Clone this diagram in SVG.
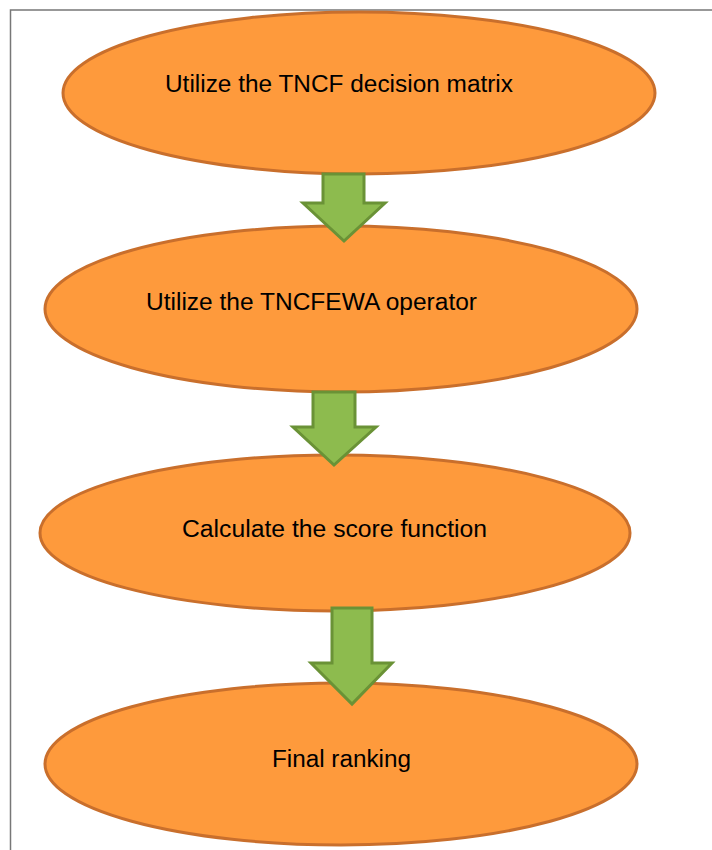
<svg xmlns="http://www.w3.org/2000/svg" width="712" height="850" viewBox="0 0 712 850">
<style>
.node ellipse{fill:#FE9A3C;stroke:#C96F2C;stroke-width:3}
.node text{font-family:"Liberation Sans",Arial,sans-serif;font-size:23px;fill:#000}
.conn path{fill:#8DBB4E;stroke:#6A9236;stroke-width:3;stroke-linejoin:miter}
</style>
<rect width="712" height="850" fill="#fff"/>
<path d="M10.5 850 V10 H712" fill="none" stroke="#777" stroke-width="1.5"/>
<g id="n1" class="node">
<ellipse cx="359" cy="93" rx="296" ry="81"/>
<text x="165" y="92" textLength="348" lengthAdjust="spacingAndGlyphs">Utilize the TNCF decision matrix</text>
</g>
<g id="n2" class="node">
<ellipse cx="341" cy="309" rx="296" ry="83"/>
<text x="146" y="310" textLength="331" lengthAdjust="spacingAndGlyphs">Utilize the TNCFEWA operator</text>
</g>
<g id="n3" class="node">
<ellipse cx="335" cy="533" rx="295" ry="78"/>
<text x="182" y="537" textLength="305" lengthAdjust="spacingAndGlyphs">Calculate the score function</text>
</g>
<g id="n4" class="node">
<ellipse cx="341" cy="764" rx="296" ry="81"/>
<text x="272" y="767" textLength="139" lengthAdjust="spacingAndGlyphs">Final ranking</text>
</g>
<g id="connectors" class="conn">
<path d="M323 174 H364 V203 H385 L344 241 L303 203 H323 Z"/>
<path d="M313 392 H355 V427 H376 L334 465 L293 427 H313 Z"/>
<path d="M332 608 H372 V663 H392 L352 704 L311 663 H332 Z"/>
</g>
</svg>
